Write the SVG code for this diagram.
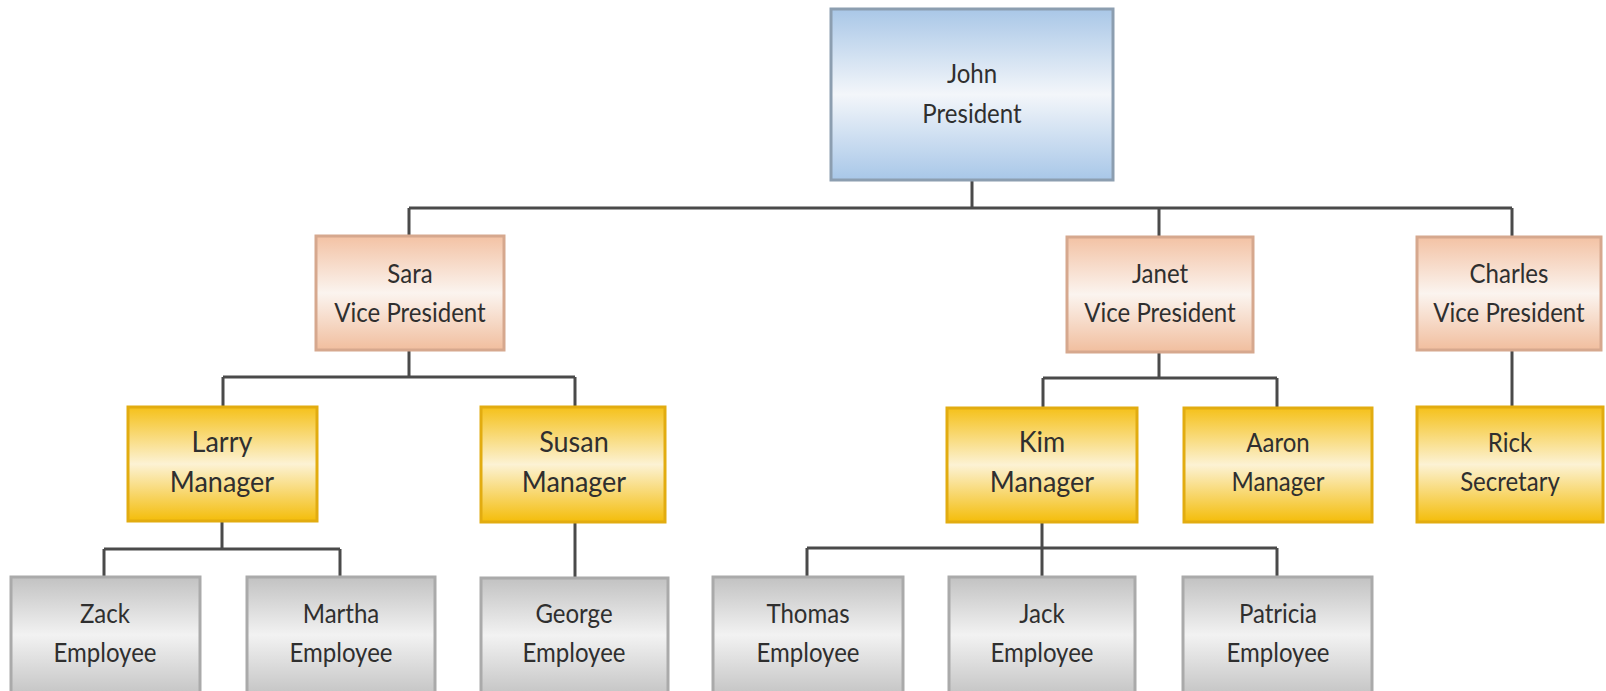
<svg xmlns="http://www.w3.org/2000/svg" width="1606" height="691" viewBox="0 0 1606 691">
  <defs>
    <linearGradient id="gBlue" x1="0" y1="0" x2="0" y2="1">
      <stop offset="0" stop-color="#a9c7e7"/>
      <stop offset="0.5" stop-color="#f3f6fa"/>
      <stop offset="1" stop-color="#a8c7e8"/>
    </linearGradient>
    <linearGradient id="gPeach" x1="0" y1="0" x2="0" y2="1">
      <stop offset="0" stop-color="#f3c2a4"/>
      <stop offset="0.5" stop-color="#fbf4ef"/>
      <stop offset="1" stop-color="#f1be9e"/>
    </linearGradient>
    <linearGradient id="gGold" x1="0" y1="0" x2="0" y2="1">
      <stop offset="0" stop-color="#f5c11a"/>
      <stop offset="0.5" stop-color="#fcf2d4"/>
      <stop offset="1" stop-color="#f4bd0a"/>
    </linearGradient>
    <linearGradient id="gGray" x1="0" y1="0" x2="0" y2="1">
      <stop offset="0" stop-color="#c2c2c2"/>
      <stop offset="0.5" stop-color="#f2f2f2"/>
      <stop offset="1" stop-color="#c6c6c6"/>
    </linearGradient>
  </defs>
  <style>
    .box { stroke-width: 3; }
    .president { fill: url(#gBlue); stroke: #8c9eb0; }
    .vp { fill: url(#gPeach); stroke: #d6a88e; }
    .mgr { fill: url(#gGold); stroke: #e2ac10; }
    .emp { fill: url(#gGray); stroke: #aaaaaa; }
    text {
      font-family: Lato, "Open Sans", sans-serif; fill: #2f2f2f; text-anchor: middle;
      transform-box: fill-box; transform-origin: center;
    }
    .t27 { font-size: 27px; transform: scaleX(0.89); }
    .t29 { font-size: 29px; transform: scaleX(0.93); }
    .conn { stroke: #4a4a4a; stroke-width: 3; fill: none; }
  </style>

  <rect width="1606" height="691" fill="#ffffff"/>

  <!-- reporting lines -->
  <g id="connectors">
    <path class="conn" d="M972 180 V208 M409 208 H1512 M409 208 V236 M1159 208 V237 M1512 208 V237"/>
    <path class="conn" d="M409 350 V377 M223 377 H575 M223 377 V407 M575 377 V407"/>
    <path class="conn" d="M1159 352 V378 M1043 378 H1277 M1043 378 V408 M1277 378 V408"/>
    <path class="conn" d="M1512 350 V407"/>
    <path class="conn" d="M222 521 V549 M104 549 H340 M104 549 V577 M340 549 V577"/>
    <path class="conn" d="M575 522 V578"/>
    <path class="conn" d="M1042 522 V548 M807 548 H1277 M807 548 V577 M1042 548 V577 M1277 548 V577"/>
  </g>

  <g id="john">
    <rect class="box president" x="831" y="9" width="282" height="171"/>
    <text class="t27" x="972" y="83">John</text>
    <text class="t27" x="972" y="123">President</text>
  </g>

  <g id="sara">
    <rect class="box vp" x="316" y="236" width="188" height="114"/>
    <text class="t27" x="410" y="283">Sara</text>
    <text class="t27" x="410" y="322">Vice President</text>
  </g>
  <g id="janet">
    <rect class="box vp" x="1067" y="237" width="186" height="115"/>
    <text class="t27" x="1160" y="283">Janet</text>
    <text class="t27" x="1160" y="322">Vice President</text>
  </g>
  <g id="charles">
    <rect class="box vp" x="1417" y="237" width="184" height="113"/>
    <text class="t27" x="1509" y="283">Charles</text>
    <text class="t27" x="1509" y="322">Vice President</text>
  </g>

  <g id="larry">
    <rect class="box mgr" x="128" y="407" width="189" height="114"/>
    <text class="t29" x="222" y="452">Larry</text>
    <text class="t29" x="222" y="492">Manager</text>
  </g>
  <g id="susan">
    <rect class="box mgr" x="481" y="407" width="184" height="115"/>
    <text class="t29" x="574" y="452">Susan</text>
    <text class="t29" x="574" y="492">Manager</text>
  </g>
  <g id="kim">
    <rect class="box mgr" x="947" y="408" width="190" height="114"/>
    <text class="t29" x="1042" y="452">Kim</text>
    <text class="t29" x="1042" y="492">Manager</text>
  </g>
  <g id="aaron">
    <rect class="box mgr" x="1184" y="408" width="188" height="114"/>
    <text class="t27" x="1278" y="452">Aaron</text>
    <text class="t27" x="1278" y="491">Manager</text>
  </g>
  <g id="rick">
    <rect class="box mgr" x="1417" y="407" width="186" height="115"/>
    <text class="t27" x="1510" y="452">Rick</text>
    <text class="t27" x="1510" y="491">Secretary</text>
  </g>

  <g id="zack">
    <rect class="box emp" x="11" y="577" width="189" height="116"/>
    <text class="t27" x="105" y="623">Zack</text>
    <text class="t27" x="105" y="662">Employee</text>
  </g>
  <g id="martha">
    <rect class="box emp" x="247" y="577" width="188" height="116"/>
    <text class="t27" x="341" y="623">Martha</text>
    <text class="t27" x="341" y="662">Employee</text>
  </g>
  <g id="george">
    <rect class="box emp" x="481" y="578" width="187" height="115"/>
    <text class="t27" x="574" y="623">George</text>
    <text class="t27" x="574" y="662">Employee</text>
  </g>
  <g id="thomas">
    <rect class="box emp" x="713" y="577" width="190" height="116"/>
    <text class="t27" x="808" y="623">Thomas</text>
    <text class="t27" x="808" y="662">Employee</text>
  </g>
  <g id="jack">
    <rect class="box emp" x="949" y="577" width="186" height="116"/>
    <text class="t27" x="1042" y="623">Jack</text>
    <text class="t27" x="1042" y="662">Employee</text>
  </g>
  <g id="patricia">
    <rect class="box emp" x="1183" y="577" width="189" height="116"/>
    <text class="t27" x="1278" y="623">Patricia</text>
    <text class="t27" x="1278" y="662">Employee</text>
  </g>
</svg>
